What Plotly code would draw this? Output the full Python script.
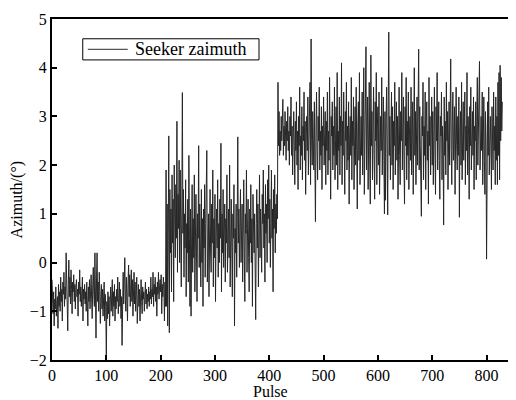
import plotly.graph_objects as go

# Seeker azimuth estimates, one value per pulse
seg1 = [  # pulses 0-209
    -0.35,-0.82,-1.05,-0.6,-1.3,-0.75,-0.95,-0.5,-1.1,-0.85,
    -0.7,-1.35,-0.45,-0.9,-0.6,-1.0,-0.3,-0.8,-0.55,-1.2,
    -0.4,-0.65,-0.2,-0.9,-0.5,-0.75,0.2,-0.6,-0.35,-1.4,
    -0.45,0.05,-0.7,-0.3,-0.85,-0.15,-0.55,-1.05,-0.4,-0.6,
    -0.25,-0.8,-0.45,-0.95,-0.5,-0.35,-0.7,-0.55,-1.1,-0.4,
    -0.65,-0.15,-0.8,-0.5,-0.9,-0.6,-0.3,-1.2,-0.55,-0.75,
    -0.45,-0.85,-0.6,-1.0,-0.4,-0.7,-1.3,-0.5,-0.8,-0.35,
    -0.95,-0.6,-0.25,-0.75,-1.15,-0.45,-0.1,-0.65,-0.9,0.2,
    -0.5,-1.55,-0.3,0.2,-0.8,-0.4,-1.0,-0.2,-0.6,-1.25,
    -0.7,-0.45,-0.95,-0.55,-1.1,-0.75,-0.4,-1.2,-0.65,-0.9,
    -2.0,-0.8,-1.15,-0.6,-1.05,-0.7,-1.3,-0.85,-0.5,-1.0,
    -0.75,-0.35,-1.1,-0.6,-0.9,-0.45,-1.2,-0.7,-0.95,-0.55,
    -0.8,-0.3,-1.05,-0.65,-0.4,-0.9,-0.55,-1.15,-0.7,-1.7,
    -0.6,-0.2,-0.85,-0.45,0.1,-0.75,-1.0,-0.3,-0.6,-1.2,
    -0.4,-0.05,-0.7,-0.25,-0.9,-0.5,-0.15,-0.8,-0.35,-1.1,
    -0.55,-0.2,-0.85,-0.4,-1.0,-0.6,-0.3,-1.25,-0.7,-0.45,
    -0.9,-0.55,-1.2,-0.65,-0.35,-0.8,-1.05,-0.5,-0.75,-0.6,
    -1.0,-0.7,-0.4,-0.85,-0.55,-0.95,-0.65,-0.8,-0.5,-0.9,
    -0.6,-0.75,-0.3,-0.85,-0.55,-0.7,-0.2,-0.9,-0.45,-0.65,
    -0.3,-0.8,-0.5,-1.1,-0.4,-0.65,-0.2,-0.75,-0.5,-0.35,
    -0.6,-0.25,-1.05,-0.45,-0.7,-0.3,-0.55,-1.2,-0.4,-0.9,
]
seg2 = [  # pulses 210-419
    1.9,-0.9,1.2,-1.3,0.6,2.6,-1.44,1.5,0.2,1.1,
    -0.6,1.8,0.4,1.3,-0.8,2.0,0.9,0.1,1.6,0.5,
    2.9,-0.2,1.4,0.7,2.1,0.0,1.9,0.8,-0.5,1.2,
    3.49,0.6,1.5,-0.3,1.0,0.3,1.7,-0.7,0.8,0.2,
    1.3,-0.4,2.2,0.5,-0.9,1.1,-1.1,0.4,1.6,-0.2,
    0.9,0.1,1.8,-0.6,0.7,1.4,0.2,-0.8,1.0,0.5,
    2.4,-0.1,1.2,0.6,-0.5,1.5,0.0,0.9,-0.9,1.1,
    0.3,1.6,-0.3,0.8,1.3,2.3,-0.4,0.5,1.0,-0.7,
    0.7,1.5,0.2,-0.2,1.2,0.4,1.9,-0.5,0.9,0.1,
    1.4,-0.8,0.6,1.1,0.3,1.7,-0.3,0.8,0.0,1.3,
    0.5,2.45,-0.6,1.0,0.2,1.5,-0.1,0.7,1.2,-0.4,
    0.9,0.4,1.8,-0.2,0.6,1.1,0.1,2.0,-0.5,0.8,
    1.3,0.3,-0.7,1.0,0.5,1.6,-1.3,0.7,0.2,1.2,
    -0.3,0.9,2.58,0.4,1.1,-0.1,0.6,1.5,0.0,0.8,
    1.2,-0.4,0.5,1.7,0.2,-0.8,1.0,0.6,1.9,-0.2,
    0.7,1.3,0.1,-0.6,1.1,0.4,1.6,0.0,0.9,-0.9,
    1.4,0.5,0.2,1.0,-0.3,-1.17,0.8,1.5,0.3,1.2,
    -0.5,0.7,1.8,0.1,1.1,0.5,-0.2,1.4,0.8,1.9,
    0.3,1.0,-0.4,1.6,0.6,1.2,0.0,1.7,0.9,2.0,
    0.4,1.3,-0.1,0.8,1.9,0.5,1.1,-0.6,1.5,0.7,
    1.8,0.2,1.2,0.6,1.4,0.9,3.7,2.4,3.1,2.2,
]
seg3 = [  # pulses 420-829
    2.7,2.3,3.0,2.5,2.9,3.35,2.2,2.8,2.4,3.1,
    2.6,2.1,2.9,2.5,3.2,2.3,2.7,2.0,3.0,2.6,
    3.4,2.2,2.8,1.8,2.5,3.1,2.4,1.6,2.9,2.3,
    3.3,2.0,2.7,1.5,3.0,2.4,3.6,1.9,2.6,2.2,
    3.2,1.7,2.8,2.5,3.5,2.1,2.9,1.4,2.6,3.0,
    2.3,3.4,1.8,2.7,2.4,3.7,1.6,4.59,2.5,2.0,
    3.1,2.6,1.9,3.3,2.2,0.84,2.8,3.5,2.3,1.7,
    3.0,2.5,3.6,1.9,2.7,2.2,3.2,1.5,2.8,2.4,
    3.4,2.0,2.6,3.1,1.6,2.9,2.3,3.5,1.8,2.7,
    2.1,3.8,2.4,1.3,3.0,2.6,3.3,1.9,2.8,2.2,
    3.6,1.7,2.5,3.2,2.0,3.9,1.5,2.7,2.3,3.4,
    1.8,3.0,2.4,4.1,1.6,2.9,2.2,3.5,2.6,1.4,
    3.1,2.5,3.7,1.9,2.8,2.1,3.3,1.2,2.6,3.0,
    2.2,3.8,1.7,2.9,2.4,3.4,1.5,2.7,3.2,2.0,
    3.6,2.3,1.1,2.8,3.3,2.1,3.9,1.6,2.5,3.0,
    2.2,3.5,1.8,2.9,4.0,1.4,2.7,3.2,4.43,1.9,
    2.6,3.4,1.5,2.8,3.7,2.0,1.2,4.26,2.4,3.1,
    1.7,2.9,3.6,2.2,1.3,3.3,2.5,3.9,1.6,2.8,
    3.2,2.0,3.5,1.4,2.7,3.0,2.3,3.8,1.8,2.6,
    3.4,2.1,1.0,3.1,1.28,2.9,3.6,2.4,0.98,3.3,
    4.73,2.2,3.0,1.7,2.7,3.5,2.0,3.2,1.5,2.9,
    2.4,3.7,1.8,2.6,3.3,2.1,3.0,1.3,2.8,3.6,
    2.2,1.6,3.1,2.5,3.9,1.9,2.7,3.4,2.0,1.2,
    3.2,2.4,3.8,1.7,2.9,2.2,3.5,1.5,2.6,3.0,
    2.1,3.6,1.8,2.8,3.3,1.4,2.5,4.0,2.2,3.1,
    1.6,2.7,3.4,2.0,2.9,4.38,1.9,3.2,2.4,1.3,
    0.95,3.0,2.6,3.7,1.7,2.8,2.2,3.5,1.5,2.9,
    3.3,2.1,2.7,1.2,3.8,2.4,3.0,1.8,2.6,3.4,
    2.0,3.1,1.6,2.8,3.6,2.3,1.4,3.2,2.5,3.9,
    1.9,2.7,3.3,2.1,1.3,3.0,2.6,3.5,1.7,2.8,
    2.4,0.77,3.4,2.2,2.9,1.8,3.7,2.5,3.1,1.5,
    2.7,3.3,2.0,3.8,4.18,2.3,1.6,2.9,3.5,2.1,
    2.6,3.2,1.4,2.8,3.6,2.4,1.9,3.0,2.2,3.4,
    0.93,2.7,3.1,2.0,3.7,1.7,2.5,3.3,2.1,2.9,
    3.5,1.6,2.8,2.3,3.9,1.8,3.0,2.6,1.3,3.2,
    2.4,3.6,1.9,2.7,3.1,2.2,3.4,1.5,2.8,2.5,
    3.3,1.7,2.9,3.8,2.0,2.6,3.2,4.13,1.9,2.7,
    3.0,2.3,3.5,1.6,2.8,3.4,2.1,1.4,3.1,2.5,
    0.07,2.9,3.3,2.2,3.6,1.8,2.7,3.0,2.4,1.5,
    3.2,2.6,1.9,3.5,2.3,2.8,1.6,3.4,2.1,3.0,
    1.6,3.7,2.2,3.9,1.7,4.05,2.5,3.8,2.7,3.3,
]
azimuth = seg1 + seg2 + seg3
pulse = list(range(len(azimuth)))

series_name = "Seeker zaimuth"
x_ticks = [0, 100, 200, 300, 400, 500, 600, 700, 800]
y_ticks = [-2, -1, 0, 1, 2, 3, 4, 5]

FONT = "Liberation Serif"
LINE_COLOR = "#262626"

fig = go.Figure()
fig.add_trace(go.Scatter(
    x=pulse, y=azimuth, mode="lines", name=series_name,
    line=dict(color=LINE_COLOR, width=1.0), showlegend=False,
))

axis_common = dict(
    showline=True, linecolor="black", linewidth=2, mirror=True,
    ticks="inside", ticklen=5, tickwidth=2, tickcolor="black",
    showgrid=False, zeroline=False,
    tickfont=dict(family=FONT, size=16, color="black"),
)
fig.update_xaxes(range=[0, 845], tickvals=x_ticks, **axis_common)
fig.update_yaxes(range=[-2, 5], tickvals=y_ticks, **axis_common)

# legend box drawn in paper coordinates
fig.add_shape(type="rect", xref="paper", yref="paper",
              x0=0.067, x1=0.451, y0=0.880, y1=0.942,
              line=dict(color="black", width=1), fillcolor="white")
fig.add_shape(type="line", xref="paper", yref="paper",
              x0=0.078, x1=0.165, y0=0.911, y1=0.911,
              line=dict(color="#555555", width=1.2))

fig.update_layout(
    width=508, height=392,
    margin=dict(l=44, r=3, t=9, b=40),
    paper_bgcolor="white", plot_bgcolor="white",
    font=dict(family=FONT, color="black"),
    showlegend=False,
    annotations=[
        dict(text=series_name, x=0.176, y=0.911, xref="paper", yref="paper",
             xanchor="left", yanchor="middle", showarrow=False,
             font=dict(family=FONT, size=18, color="black")),
        dict(text="Pulse", x=0.477, y=0, xref="paper", yref="paper",
             xanchor="center", yanchor="bottom", yshift=-41, borderpad=0,
             showarrow=False,
             font=dict(family=FONT, size=16, color="black")),
        dict(text="Azimuth/(°)", x=-0.077, y=0.47, xref="paper", yref="paper",
             xanchor="center", yanchor="middle", showarrow=False, textangle=-90,
             font=dict(family=FONT, size=16, color="black")),
    ],
)

fig.write_html("out.html")
